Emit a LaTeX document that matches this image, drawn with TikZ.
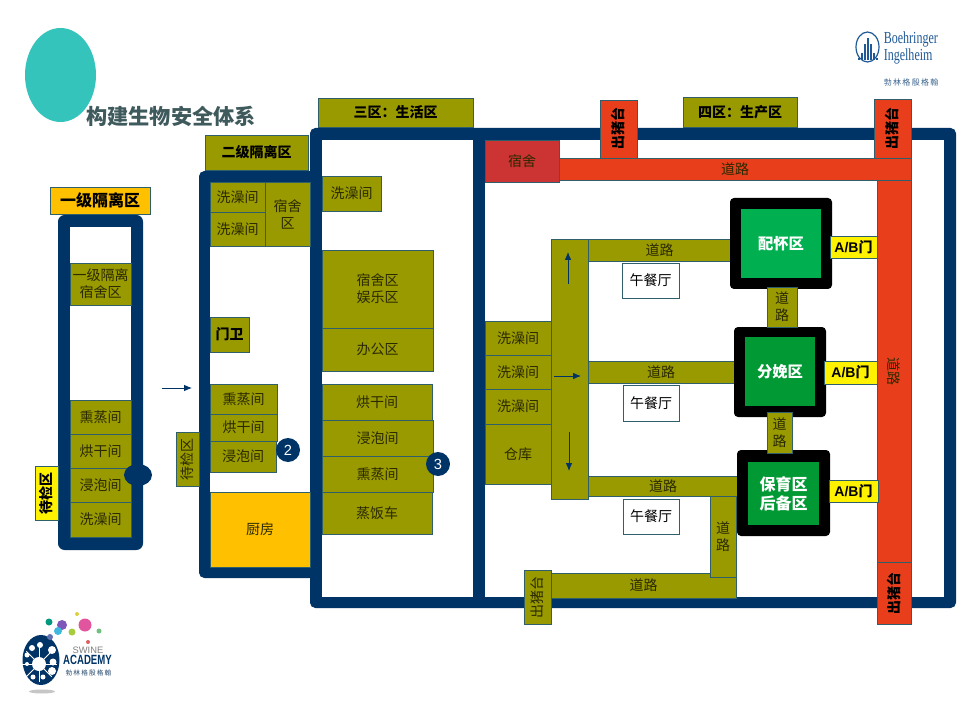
\documentclass[tikz,border=0pt]{standalone}
\usepackage{fontspec}
\setmainfont{Noto Sans CJK SC}
\newfontfamily\latinf{Liberation Serif}
\newfontfamily\sansf{Liberation Sans}
\usetikzlibrary{arrows.meta,shapes.geometric}
\definecolor{navy}{HTML}{003366}
\definecolor{olive}{HTML}{999900}
\definecolor{edgec}{HTML}{2F5F6B}
\definecolor{amber}{HTML}{FFC000}
\definecolor{road}{HTML}{E83E1B}
\definecolor{dorm}{HTML}{CC3333}
\definecolor{greena}{HTML}{00B050}
\definecolor{greenb}{HTML}{009933}
\definecolor{teal}{HTML}{35C4BB}
\definecolor{titlec}{HTML}{3F5A5C}
\definecolor{txt}{HTML}{2A2A00}
\tikzset{
  x=0.75pt,y=-0.75pt,
  wall/.style={fill=navy,draw=none},
  room/.style={draw=edgec,line width=0.7pt,inner sep=0pt,align=center,text=txt,font=\fontsize{10.5}{12.75}\selectfont},
  oliv/.style={room,fill=olive},
  boldlab/.style={font=\fontsize{10.5}{13}\selectfont\bfseries,text=black},
  bigbold/.style={font=\fontsize{12}{14}\selectfont\bfseries,text=black},
  amb/.style={room,fill=amber},
  roadb/.style={room,fill=road},
  yel/.style={room,fill=yellow,boldlab},
  wht/.style={room,fill=white,text=black},
  pen/.style={fill=black,rounded corners=3pt,draw=none},
  greenbox/.style={draw=none,inner sep=0pt,align=center,text=white,font=\fontsize{11.5}{16}\selectfont\bfseries},
  greenbig/.style={greenbox,font=\fontsize{12}{14}\selectfont\bfseries},
  num/.style={circle,fill=navy,text=white,inner sep=0pt,minimum size=18pt,font=\fontsize{11}{12}\sansf},
  flow/.style={draw=navy,line width=0.7pt,-{Latex[length=6pt,width=5pt]}}
}
% name, x0, y0, x1, y1, style, text
\newcommand{\bx}[7]{\node[#6,minimum width=#4*0.75pt-#2*0.75pt,minimum height=#5*0.75pt-#3*0.75pt] (#1) at ({(#2+#4)/2},{(#3+#5)/2}) {#7};}
\newcommand{\rbx}[7]{\node[#6,minimum width=#4*0.75pt-#2*0.75pt,minimum height=#5*0.75pt-#3*0.75pt] (#1) at ({(#2+#4)/2},{(#3+#5)/2}) {\rotatebox{90}{#7}};}
\newcommand{\rrbx}[7]{\node[#6,minimum width=#4*0.75pt-#2*0.75pt,minimum height=#5*0.75pt-#3*0.75pt] (#1) at ({(#2+#4)/2},{(#3+#5)/2}) {\rotatebox{-90}{#7}};}
\begin{document}
\begin{tikzpicture}
\useasboundingbox (0,0) rectangle (960,720);
\fill[white] (0,0) rectangle (960,720);
% header
\node[ellipse,fill=teal,draw=none,minimum width=53.25pt,minimum height=70.5pt,inner sep=0pt] (blob) at (60.5,75) {};
\node[text=titlec,font=\fontsize{15.9}{18}\selectfont\bfseries,inner sep=0pt] (title) at (171,116) {构建生物安全体系};

% walls
\fill[wall,rounded corners=5pt] (58,215) rectangle (143,550);
\fill[white] (70,227) rectangle (131,538);
\fill[wall,rounded corners=4pt] (199,171) -- (315,171) -- (315,578) -- (199,578) -- cycle;
\fill[white] (210,182) rectangle (322,567);
\fill[wall,rounded corners=4pt] (310,128) -- (956,128) -- (956,608) -- (310,608) -- cycle;
\fill[white] (322,140) rectangle (473,597);
\fill[white] (485,140) rectangle (944,597);

% zone one
\bx{z1}{50}{187}{150}{214}{amb,bigbold}{一级隔离区}
\bx{a1}{70}{263}{131}{305}{oliv}{一级隔离\\宿舍区}
\bx{a2}{70}{400}{131}{434}{oliv}{熏蒸间}
\bx{a3}{70}{434}{131}{468}{oliv}{烘干间}
\bx{a4}{70}{468}{131}{502}{oliv}{浸泡间}
\bx{a5}{70}{502}{131}{537}{oliv}{洗澡间}
\node[ellipse,fill=navy,draw=none,minimum width=21pt,minimum height=16.5pt,inner sep=0pt] (hole1) at (138,475) {};
\rbx{wait1}{35}{466}{58}{520}{yel}{待检区}
\coordinate (f1a) at (162,388);
\coordinate (f1b) at (192,388);
\draw[flow] (f1a) -- (f1b);

% zone two
\bx{z2}{205}{135}{308}{170}{oliv,boldlab}{二级隔离区}
\bx{b1}{210}{182}{265}{212}{oliv}{洗澡间}
\bx{b2}{210}{212}{265}{246}{oliv}{洗澡间}
\bx{b3}{265}{182}{310}{246}{oliv}{宿舍\\区}
\bx{b4}{210}{317}{249}{352}{oliv,boldlab}{门卫}
\bx{b5}{210}{384}{277}{414}{oliv}{熏蒸间}
\bx{b6}{210}{414}{277}{441}{oliv}{烘干间}
\bx{b7}{210}{441}{276}{472}{oliv}{浸泡间}
\bx{b8}{210}{492}{310}{567}{amb}{厨房}
\rbx{wait2}{176}{432}{199}{486}{oliv}{待检区}
\node[num] (n2) at (288,450) {2};

% zone three
\bx{z3}{318}{98}{473}{127}{oliv,boldlab}{三区：生活区}
\bx{c1}{322}{176}{381}{211}{oliv}{洗澡间}
\bx{c2}{322}{250}{433}{328}{oliv}{宿舍区\\娱乐区}
\bx{c3}{322}{328}{433}{371}{oliv}{办公区}
\bx{c4}{322}{384}{432}{420}{oliv}{烘干间}
\bx{c5}{322}{420}{433}{456}{oliv}{浸泡间}
\bx{c6}{322}{456}{433}{492}{oliv}{熏蒸间}
\bx{c7}{322}{492}{432}{534}{oliv}{蒸饭车}
\node[num] (n3) at (438,464) {3};

% zone four
\bx{z4}{683}{97}{797}{127}{oliv,boldlab}{四区：生产区}
\bx{d0}{485}{140}{559}{182}{room,fill=dorm}{宿舍}
\rbx{e1}{600}{100}{637}{158}{roadb,boldlab}{出猪台}
\rbx{e2}{874}{99}{911}{158}{roadb,boldlab}{出猪台}
\bx{r1}{559}{158}{911}{180}{roadb}{道路}
\rrbx{r2}{877}{180}{911}{562}{roadb}{道路}
\rbx{e3}{877}{562}{911}{624}{roadb,boldlab}{出猪台}

\bx{s1}{485}{321}{551}{355}{oliv}{洗澡间}
\bx{s2}{485}{355}{551}{389}{oliv}{洗澡间}
\bx{s3}{485}{389}{551}{424}{oliv}{洗澡间}
\bx{s4}{485}{424}{551}{484}{oliv}{仓库}
\bx{spine}{551}{239}{588}{499}{oliv}{}
\coordinate (u1) at (568,284); \coordinate (u2) at (568,252);
\coordinate (m1) at (554,376); \coordinate (m2) at (581,376);
\coordinate (l1) at (569,432); \coordinate (l2) at (569,471);
\draw[flow] (u1) -- (u2);
\draw[flow] (m1) -- (m2);
\draw[flow] (l1) -- (l2);

\bx{r3}{588}{239}{731}{261}{oliv}{道路}
\bx{r4}{588}{361}{734}{383}{oliv}{道路}
\bx{r5}{588}{476}{738}{496}{oliv}{道路}
\bx{l1n}{622}{263}{679}{298}{wht}{午餐厅}
\bx{l2n}{623}{385}{679}{421}{wht}{午餐厅}
\bx{l3n}{623}{499}{679}{534}{wht}{午餐厅}

% pens
\fill[pen] (730,198) rectangle (832,289);
\fill[pen] (734,327) rectangle (826,417);
\fill[pen] (737,450) rectangle (830,536);
\bx{g1}{741}{209}{821}{278}{greenbox,fill=greena}{配怀区}
\bx{g2}{745}{337}{815}{406}{greenbox,fill=greenb}{分娩区}
\bx{g3}{748}{462}{819}{525}{greenbig,fill=greenb}{保育区\\后备区}
\bx{ab1}{830}{236}{877}{258}{yel}{\sansf A/B\rmfamily 门}
\bx{ab2}{824}{361}{877}{384}{yel}{\sansf A/B\rmfamily 门}
\bx{ab3}{829}{480}{878}{502}{yel}{\sansf A/B\rmfamily 门}
\bx{v1}{767}{287}{797}{327}{oliv}{道\\路}
\bx{v2}{767}{412}{792}{453}{oliv}{道\\路}

% bottom roads
\bx{r6}{551}{573}{736}{598}{oliv}{道路}
\bx{v3}{710}{496}{736}{577}{oliv}{道\\路}
\rbx{e4}{524}{570}{551}{624}{oliv}{出猪台}

% Boehringer logo
\definecolor{bilogo}{HTML}{1F5A96}
\draw[bilogo,line width=0.9pt] (867.5,47) ellipse [x radius=11.5,y radius=15];
\foreach \bxx/\byy in {859/58,862/53,865/44,868/38,871/44,874/53,877/58}
  \draw[bilogo,line width=1pt] (\bxx,\byy) -- (\bxx,60);
\node[text=bilogo,inner sep=0pt,anchor=west] (bi1) at (883.5,39.5) {\latinf\fontsize{11}{12}\selectfont\scalebox{0.82}[1.15]{Boehringer}};
\node[text=bilogo,inner sep=0pt,anchor=west] (bi2) at (883.5,56) {\latinf\fontsize{11}{12}\selectfont\scalebox{0.82}[1.15]{Ingelheim}};
\node[text=bilogo!70!gray,inner sep=0pt,anchor=west] (bi3) at (883.5,82.5) {\fontsize{6}{7}\selectfont 勃\,林\,格\,殷\,格\,翰};

% Swine logo
\fill[gray!45] (42,691.5) ellipse [x radius=13,y radius=2];
\fill[navy] (41,660) ellipse [x radius=18.5,y radius=25];
\fill[white] (39,664) circle (7);
\foreach \cx/\cy/\cr in {40/645/3,52/650/4,32/648/3,53/662/3.5,52/671/4,27/664/2,43/677/2.5,33/677/2.5,27/655/2.5}
  \fill[white] (\cx,\cy) circle (\cr);
\foreach \ang in {0,45,...,315}
  \draw[white,line width=0.6pt] (39,664) -- ++(\ang:18);
\foreach \cx/\cy/\cr/\cc in {49/622/3.5/00997F,62/625/5/7E57B8,58/631/4/3FB8E0,77/614/2/E0D040,85/625/6.5/E0559E,72/632/3.5/A8CC40,99/631/2.5/70C080,50/637/3/6070B0,88/642/2/E06060}{
  \definecolor{dotc}{HTML}{\cc}
  \fill[dotc] (\cx,\cy) circle (\cr);
}
\node[text=gray,inner sep=0pt] (sw1) at (88,650) {\sansf\fontsize{7}{8}\selectfont SWINE};
\node[text=navy,inner sep=0pt] (sw2) at (87.5,659.5) {\sansf\bfseries\fontsize{8}{9}\selectfont\scalebox{0.9}[1.25]{ACADEMY}};
\node[text=navy!70!gray,inner sep=0pt] (sw3) at (88.5,672.5) {\fontsize{5}{6}\selectfont 勃\,林\,格\,殷\,格\,翰};
\end{tikzpicture}
\end{document}
